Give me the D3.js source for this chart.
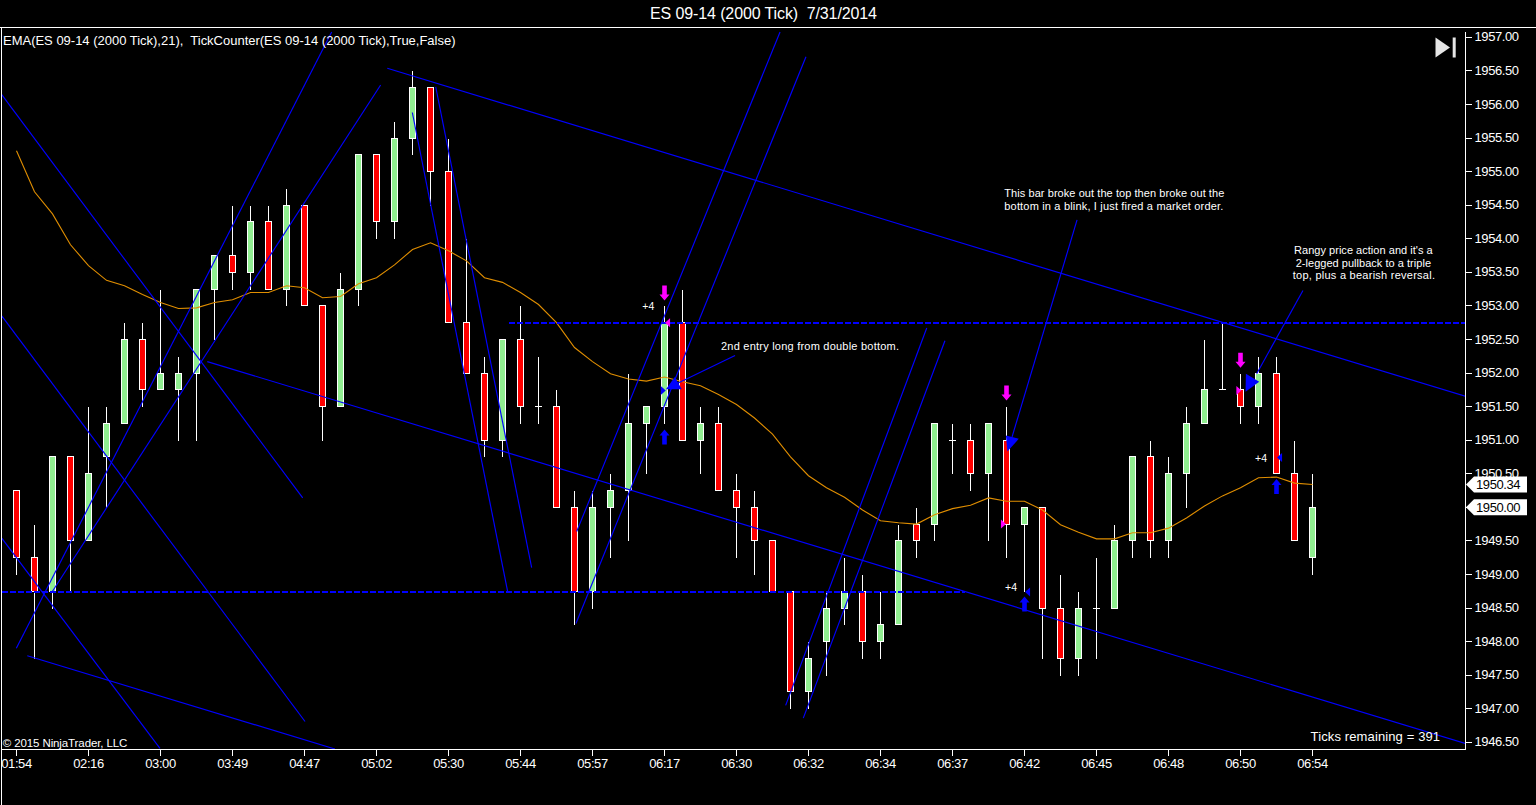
<!DOCTYPE html>
<html>
<head>
<meta charset="utf-8">
<script src="https://cdn.jsdelivr.net/npm/d3@7/dist/d3.min.js"></script>
<style>
html,body{margin:0;padding:0;background:#000;overflow:hidden}
svg{display:block}
text{font-family:"Liberation Sans",Arial,sans-serif;fill:#fff}
</style>
</head>
<body>
<svg id="c" width="1536" height="805"></svg>
<script>
// ---- chart values ----
const timeLabels = ["01:54","02:16","03:00","03:49","04:47","05:02","05:30","05:44","05:57","06:17","06:30","06:32","06:34","06:37","06:42","06:45","06:48","06:50","06:54"];
const priceTicks = [1957,1956.5,1956,1955.5,1955,1954.5,1954,1953.5,1953,1952.5,1952,1951.5,1951,1950.5,1950,1949.5,1949,1948.5,1948,1947.5,1947,1946.5];
const opens  = [1950.25,1949.25,1948.75,1950.75,1949.5,1950.75,1951.25,1952.5,1951.75,1951.75,1952,1953.25,1953.75,1953.5,1954.25,1953.25,1954.5,1953,1951.5,1953.25,1955.25,1954.25,1955.5,1956.25,1955,1952.75,1952,1951,1952.5,1951.5,1951.5,1950,1948.75,1950,1950.25,1951.25,1951.5,1952.75,1951,1951.25,1950.25,1950,1949.5,1948.75,1947.25,1948,1948.5,1948.75,1948,1948.25,1949.75,1949.75,1951,1951,1950.5,1951,1949.75,1950,1948.5,1947.75,1948.5,1948.5,1949.5,1950.75,1949.5,1950.5,1951.25,1951.75,1951.75,1951.5,1952,1950.5,1949.25];
const closes = [1949.25,1948.75,1950.75,1949.5,1950.5,1951.25,1952.5,1951.75,1952,1952,1953.25,1953.75,1953.5,1954.25,1953.25,1954.5,1953,1951.5,1953.25,1955.25,1954.25,1955.5,1956.25,1955,1952.75,1952,1951,1952.5,1951.5,1951.5,1950,1948.75,1950,1950.25,1951.25,1951.5,1952.75,1951,1951.25,1950.25,1950,1949.5,1948.75,1947.25,1947.75,1948.5,1948.75,1948,1948.25,1949.5,1949.5,1951.25,1951,1950.5,1951.25,1949.75,1950,1948.5,1947.75,1948.5,1948.5,1949.5,1950.75,1949.5,1950.5,1951.25,1951.75,1951.75,1951.5,1952,1950.5,1949.5,1950];
const highs  = [1950.25,1949.75,1950.75,1950.75,1951.5,1951.5,1952.75,1952.75,1953.25,1952.25,1953.25,1953.75,1954.5,1954.5,1954.5,1954.75,1954.5,1953,1953.5,1955.25,1955.25,1955.75,1956.5,1956.25,1955.5,1954,1952.25,1952.5,1953,1952.25,1951.75,1950.25,1950.25,1950.5,1952,1951.5,1953,1953.25,1951.5,1951.5,1950.5,1950.25,1949.5,1948.75,1948,1948.75,1949.25,1949,1948.75,1949.75,1950,1951.25,1951.25,1951.25,1951.25,1951.5,1950,1950,1949,1948.75,1949.25,1949.75,1950.75,1951,1950.75,1951.5,1952.5,1952.75,1952,1952.25,1952.25,1951,1950.5];
const lows   = [1949,1947.75,1948.5,1948.75,1949.5,1950,1951.25,1951.5,1951.75,1951,1951,1952.5,1953.25,1953.25,1953.25,1953,1953,1951,1951.5,1953,1954,1954,1955.25,1954.5,1952.75,1952,1950.75,1950.75,1951.25,1951.25,1950,1948.25,1948.5,1949.25,1949.5,1950.5,1951.25,1951,1950.5,1950.25,1949.25,1949,1948.75,1947,1947,1947.5,1948.25,1947.75,1947.75,1948.25,1949.25,1949.5,1950.5,1950.25,1949.5,1949.25,1948.75,1947.75,1947.5,1947.5,1947.75,1948.5,1949.25,1949.25,1949.25,1950,1951.25,1951.75,1951.25,1951.25,1950.5,1949.5,1949];
const emaValues = [1955.31,1954.70,1954.37,1953.91,1953.60,1953.38,1953.30,1953.17,1953.05,1952.96,1952.97,1953.05,1953.09,1953.20,1953.20,1953.30,1953.27,1953.12,1953.14,1953.33,1953.42,1953.61,1953.84,1953.94,1953.82,1953.67,1953.42,1953.35,1953.20,1953.02,1952.75,1952.38,1952.17,1951.99,1951.91,1951.88,1951.94,1951.87,1951.81,1951.68,1951.53,1951.33,1951.09,1950.75,1950.47,1950.29,1950.15,1949.96,1949.80,1949.77,1949.75,1949.89,1949.98,1950.03,1950.14,1950.09,1950.09,1949.96,1949.74,1949.63,1949.53,1949.53,1949.62,1949.62,1949.69,1949.84,1950.02,1950.17,1950.29,1950.44,1950.45,1950.36,1950.34];
// drawn objects, each as [bar index, price, bar index, price]
const trendLines = [
 [-0.86,1956.16,15.9,1950.14],[-0.82,1952.85,16.03,1946.81],[-0.82,1949.54,7.97,1946.41],
 [-0.01,1947.90,17.51,1957.08],[2.0,1948.75,20.23,1956.29],[0.6,1947.79,17.69,1946.40],
 [10.6,1952.17,80.53,1946.48],[20.6,1956.54,80.53,1951.65],[21.99,1955.88,27.29,1948.74],
 [23.29,1956.26,28.62,1949.10],[31.12,1949.64,42.42,1957.08],[31.08,1948.27,43.86,1956.71],
 [42.73,1947.05,50.57,1952.67],[43.71,1946.86,51.58,1952.48]
];
const arrowLines = [[39.92,1952.26,36.53,1951.82],[58.92,1954.28,55.31,1951.05],[71.47,1953.23,68.90,1951.99]];
const arrowHeads = [
 [36.08,1951.76,36.96,1951.76,36.57,1951.94],
 [54.97,1951.07,55.68,1951.02,55.05,1950.83],
 [68.30,1951.99,69.04,1951.87,68.28,1951.72]
];
const dashedLevels = [[27.36,80.53,1952.75],[-0.82,52.7,1948.75]];
const downArrows = [[36,1953.08],[55,1951.59],[68,1952.08]];
const upArrows   = [[36,1951.16],[70,1950.42],[56,1948.67]];
const magentaTriangles = [[36.03,1952.75,-1],[68.05,1951.74,1],[54.97,1949.75,1]];
const blueTriangles    = [[36.07,1951.74,1],[70.03,1950.74,-1],[56.03,1948.74,-1]];
const plusLabels = [[35.1,1953.0],[69.14,1950.73],[55.25,1948.81]];
const plusText = "+4";
const titleText = "ES 09-14 (2000 Tick)  7/31/2014";
const legendText = "EMA(ES 09-14 (2000 Tick),21),  TickCounter(ES 09-14 (2000 Tick),True,False)";
const noteBreakout = ["This bar broke out the top then broke out the","bottom in a blink, I just fired a market order."];
const noteRangy = ["Rangy price action and it's a","2-legged pullback to a triple","top, plus a bearish reversal."];
const noteEntry = "2nd entry long from double bottom.";
const ticksText = "Ticks remaining = 391";
const copyText = "\u00A9 2015 NinjaTrader, LLC";
const flagPrices = [1950.34,1950.00];

// ---- drawing ----
const svg = d3.select("#c");
const x = d3.scaleLinear().domain([0,72]).range([16.5,1312.5]);
const y = d3.scaleLinear().domain([1957,1946.5]).range([37.3,742.3]);
const BLUE = "#0000ff", MAG = "#ff00ff";
const plot = svg.append("g").attr("clip-path","url(#pc)");
svg.append("clipPath").attr("id","pc").append("rect").attr("x",2).attr("y",28).attr("width",1463).attr("height",721);
const snap = v => Math.floor(v)+0.5;

// frame
const frame = svg.append("g").attr("stroke","#fff").attr("stroke-width",1).attr("shape-rendering","crispEdges");
frame.append("line").attr("x1",0).attr("x2",1536).attr("y1",27.5).attr("y2",27.5);
frame.append("line").attr("x1",1.5).attr("x2",1.5).attr("y1",27).attr("y2",805);

// candles
const bars = d3.range(opens.length).map(i=>({i,o:opens[i],c:closes[i],h:highs[i],l:lows[i]}));
const cg = plot.append("g").attr("shape-rendering","crispEdges");
cg.selectAll("line.w").data(bars).join("line").attr("class","w")
  .attr("x1",d=>x(d.i)).attr("x2",d=>x(d.i)).attr("y1",d=>snap(y(d.h))).attr("y2",d=>snap(y(d.l))+0.5)
  .attr("stroke","#fff");
cg.selectAll("rect").data(bars.filter(d=>d.o!==d.c)).join("rect")
  .attr("x",d=>x(d.i)-3).attr("width",6)
  .attr("y",d=>snap(y(Math.max(d.o,d.c))))
  .attr("height",d=>snap(y(Math.min(d.o,d.c)))-snap(y(Math.max(d.o,d.c))))
  .attr("fill",d=>d.c>d.o?"#90ee90":"#ff0000").attr("stroke","#fff");
cg.selectAll("line.d").data(bars.filter(d=>d.o===d.c)).join("line").attr("class","d")
  .attr("x1",d=>x(d.i)-3.5).attr("x2",d=>x(d.i)+3.5).attr("y1",d=>snap(y(d.o))).attr("y2",d=>snap(y(d.o)))
  .attr("stroke","#fff");

// EMA
plot.append("path").attr("fill","none").attr("stroke","#e08e00").attr("stroke-width",1.1)
  .attr("d",d3.line().x((d,i)=>x(i)).y(d=>y(d))(emaValues));

// trend lines
const seg = (g,data,w)=>g.selectAll("line.s").data(data).join("line").attr("class","s")
  .attr("x1",d=>x(d[0])).attr("y1",d=>y(d[1])).attr("x2",d=>x(d[2])).attr("y2",d=>y(d[3]))
  .attr("stroke",BLUE).attr("stroke-width",w);
seg(plot.append("g"),trendLines,1.15);
seg(plot.append("g"),arrowLines,1.15);
plot.append("g").selectAll("line").data(dashedLevels).join("line")
  .attr("x1",d=>x(d[0])).attr("x2",d=>x(d[1])).attr("y1",d=>snap(y(d[2]))+0.5).attr("y2",d=>snap(y(d[2]))+0.5)
  .attr("stroke",BLUE).attr("stroke-width",2).attr("stroke-dasharray","6,2").attr("shape-rendering","crispEdges");
plot.append("g").selectAll("path").data(arrowHeads).join("path").attr("fill",BLUE)
  .attr("d",d=>d3.line()([[x(d[0]),y(d[1])],[x(d[2]),y(d[3])],[x(d[4]),y(d[5])]])+"Z");

// markers
const downShape = "M-2.3,-15H2.3V-6H5L0,0L-5,-6H-2.3Z";
const upShape   = "M-2.3,15H2.3V6H5L0,0L-5,6H-2.3Z";
plot.append("g").selectAll("path").data(downArrows).join("path").attr("fill",MAG).attr("d",downShape)
  .attr("transform",d=>`translate(${x(d[0])},${y(d[1])})`);
plot.append("g").selectAll("path").data(upArrows).join("path").attr("fill",BLUE).attr("d",upShape)
  .attr("transform",d=>`translate(${x(d[0])},${y(d[1])})`);
const triShape = "M0,0L-5,-4.5V4.5Z";
const tri = (data,col)=>plot.append("g").selectAll("path").data(data).join("path").attr("fill",col).attr("d",triShape)
  .attr("transform",d=>`translate(${x(d[0])},${y(d[1])}) scale(${d[2]},1)`);
tri(magentaTriangles,MAG); tri(blueTriangles,BLUE);
plot.append("g").selectAll("text").data(plusLabels).join("text").text(plusText)
  .attr("x",d=>x(d[0])).attr("y",d=>y(d[1])+4).attr("text-anchor","middle").attr("font-size",10.5);

// axes
const yAxis = d3.axisRight(y).tickValues(priceTicks).tickFormat(d3.format(".2f")).tickSize(6).tickPadding(3).offset(0);
const yg = svg.append("g").attr("transform","translate(1465.5,0)").call(yAxis);
yg.select(".domain").remove();
yg.append("line").attr("y1",32).attr("y2",750).attr("stroke","#fff");
yg.selectAll(".tick line").attr("stroke","#fff").attr("shape-rendering","crispEdges");
yg.selectAll("text").attr("font-family","Liberation Sans").attr("font-size",13).attr("letter-spacing",-0.4).attr("fill","#fff");

const xTickIdx = timeLabels.map((_,k)=>k*4);
const xAxis = d3.axisBottom(x).tickValues(xTickIdx).tickFormat((d,k)=>timeLabels[k]).tickSize(6).tickPadding(3).offset(0);
const xg = svg.append("g").attr("transform","translate(0,749.5)").call(xAxis);
xg.select(".domain").remove();
xg.append("line").attr("x1",2).attr("x2",1466).attr("stroke","#fff");
xg.selectAll(".tick line").attr("stroke","#fff").attr("shape-rendering","crispEdges");
xg.selectAll("text").attr("font-family","Liberation Sans").attr("font-size",13).attr("letter-spacing",-0.4).attr("fill","#fff");

// text with fitted width
const put = (t,px,py,size,w)=>svg.append("text").text(t).attr("x",px).attr("y",py).attr("font-size",size)
  .attr("textLength",w).attr("lengthAdjust","spacing").style("white-space","pre").attr("xml:space","preserve");
put(titleText,650,19,16,227);
put(legendText,3,45,13,452.5);
put(noteBreakout[0],1004.3,197,11,220);
put(noteBreakout[1],1004.3,210,11,219);
put(noteRangy[0],1294,254,11,138.7);
put(noteRangy[1],1295.7,266.5,11,135.3);
put(noteRangy[2],1292.7,279,11,142.3);
put(noteEntry,721,350,11,178);
put(ticksText,1310.6,741,13,129.5);
put(copyText,2.7,747,11.5,124.7);

// price flags
const flag = svg.append("g");
flagPrices.forEach(p=>{
  const cy=y(p);
  flag.append("path").attr("fill","#fff").attr("d",d3.line()([[1466,cy],[1474,cy-8],[1527,cy-8],[1527,cy+8],[1474,cy+8]])+"Z");
  flag.append("text").text(p.toFixed(2)).attr("x",1476).attr("y",cy+5).attr("font-size",13).attr("letter-spacing",-0.4).style("fill","#000");
});

// play-to-end icon
const icon = svg.append("g").attr("fill","#e6e6e6");
icon.append("path").attr("d","M1435.5,37.5L1450,47.5L1435.5,57.5Z");
icon.append("rect").attr("x",1452.7).attr("y",37.5).attr("width",3).attr("height",20);
</script>
</body>
</html>
